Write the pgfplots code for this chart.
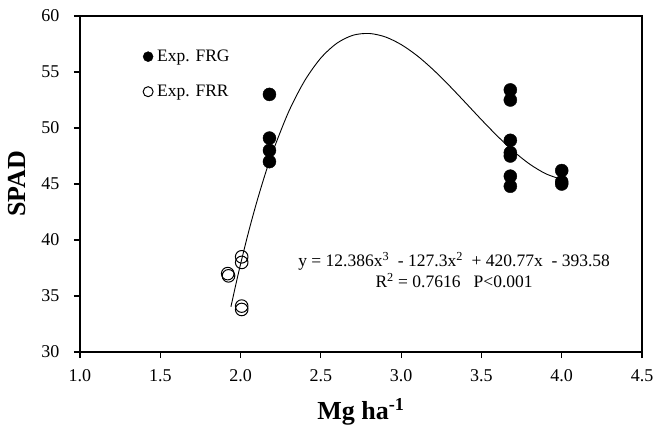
\documentclass[border=0pt]{standalone}
\usepackage{pgfplots}
\pgfplotsset{compat=1.18}
\usepackage{fontspec}
\setmainfont{Liberation Serif}
\begin{document}
\begin{tikzpicture}
\begin{axis}[
  scale only axis,
  width=562pt, height=336pt,
  xmin=1, xmax=4.5, ymin=30, ymax=60,
  xtick={1,1.5,...,4.5},
  ytick={30,35,...,60},
  xticklabel style={/pgf/number format/fixed, /pgf/number format/fixed zerofill, /pgf/number format/precision=1},
  /pgf/number format/assume math mode=true,
  tick label style={font=\fontsize{18}{20}\selectfont},
  xtick pos=bottom, ytick pos=left,
  tick align=outside,
  major tick length=6pt,
  axis line style={line width=1.1pt},
  every tick/.style={line width=1.1pt, black},
  xticklabel shift=8pt,
  yticklabel shift=11pt,
  xlabel={\textbf{Mg ha\textsuperscript{-1}}},
  ylabel={\textbf{SPAD}},
  label style={font=\fontsize{26}{30}\selectfont},
  xlabel style={yshift=-10pt},
  ylabel style={yshift=9pt},
  clip=false,
  legend style={at={(rel axis cs:0.112,0.905)}, anchor=north west, draw=none, fill=none,
    font=\fontsize{17.5}{20}\selectfont, row sep=18pt, inner sep=0pt,
    nodes={inner xsep=4pt}},
  legend cell align=left,
  legend image post style={mark size=5pt},
]
\addplot[only marks, mark=*, mark size=6.5pt, black] coordinates {
(2.18,53.0) (2.18,49.1) (2.18,48.0) (2.18,47.0)
(3.68,53.4) (3.68,52.5) (3.68,48.9) (3.68,47.8) (3.68,47.5) (3.68,45.7) (3.68,44.8)
(4.00,46.2) (4.00,45.2) (4.00,45.0)
};
\addlegendentry{Exp. FRG}
\addplot[only marks, mark=o, mark size=6.3pt, black, line width=1pt] coordinates {
(1.92,37.0) (1.925,36.8) (2.007,38.5) (2.007,38.0) (2.007,34.1) (2.007,33.8)
};
\addlegendentry{Exp. FRR}
\addplot[black, line width=0.9pt, smooth, forget plot] coordinates {
(1.94,34.04) (1.97,35.99) (2.0,37.85) (2.05,40.73) (2.1,43.35) (2.15,45.73) (2.2,47.87)
(2.3,51.47) (2.4,54.24) (2.5,56.25) (2.6,57.57) (2.7,58.28) (2.8,58.44) (2.9,58.14)
(3.0,57.45) (3.1,56.45) (3.2,55.20) (3.3,53.78) (3.4,52.27) (3.5,50.74) (3.6,49.27)
(3.7,47.92) (3.8,46.78) (3.9,45.92) (4.0,45.40)
};
\node[font=\fontsize{17.5}{21}\selectfont, align=center, anchor=center] at (axis cs:3.33,37.3)
  {y = 12.386x\textsuperscript{3}\ \ - 127.3x\textsuperscript{2}\ \ + 420.77x\ \ - 393.58\\[0pt]
   R\textsuperscript{2} = 0.7616\ \ \ P\textless 0.001};
\path (rel axis cs:-0.1423,-0.2143) rectangle (rel axis cs:1.048,1.0476);
\end{axis}
\end{tikzpicture}
\end{document}
